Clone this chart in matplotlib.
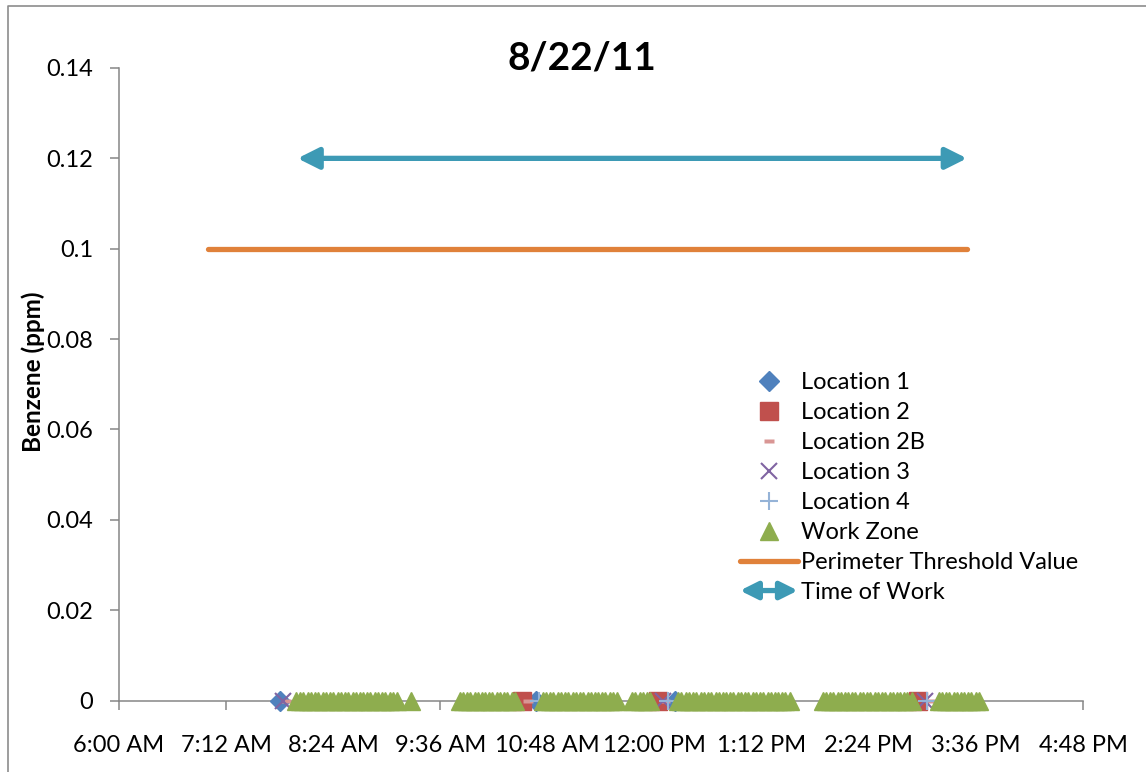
import matplotlib
matplotlib.use("Agg")
import matplotlib.pyplot as plt
from matplotlib.lines import Line2D
from matplotlib.patches import FancyArrowPatch
from matplotlib.legend_handler import HandlerBase

plt.rcParams['font.family'] = ['Lato', 'DejaVu Sans']

# ---------------- data ----------------
title = "8/22/11"
y_label = "Benzene (ppm)"

loc1_times = ["7:48", "10:40", "12:14"]
loc1_vals = [0, 0, 0]
loc2_times = ["10:31", "12:02", "14:57"]
loc2_vals = [0, 0, 0]
loc2b_times = ["7:52", "10:35", "12:07", "15:05"]
loc2b_vals = [0, 0, 0, 0]
loc3_times = ["7:50", "12:06", "15:02"]
loc3_vals = [0, 0, 0]
loc4_times = ["10:42", "12:09", "15:03"]
loc4_vals = [0, 0, 0]

work_zone_times = [
    "7:59", "8:02", "8:04", "8:07", "8:09", "8:12", "8:14", "8:17", "8:19", "8:22",
    "8:24", "8:27", "8:29", "8:32", "8:34", "8:37", "8:39", "8:42", "8:44", "8:47",
    "8:49", "8:52", "8:54", "8:57", "8:59", "9:02", "9:04", "9:07", "9:16",
    "9:49", "9:51", "9:54", "9:56", "9:59", "10:01", "10:04", "10:06", "10:09",
    "10:11", "10:14", "10:16", "10:19", "10:21", "10:24", "10:26",
    "10:45", "10:47", "10:50", "10:52", "10:55", "10:57", "11:00", "11:02", "11:05",
    "11:07", "11:10", "11:12", "11:15", "11:17", "11:20", "11:22", "11:25", "11:27",
    "11:30", "11:32", "11:35",
    "11:45", "11:47", "11:50", "11:52", "11:55", "11:57",
    "12:16", "12:18", "12:21", "12:23", "12:26", "12:28", "12:31", "12:33", "12:36",
    "12:38", "12:41", "12:43", "12:46", "12:48", "12:51", "12:53", "12:56", "12:58",
    "13:01", "13:03", "13:06", "13:08", "13:11", "13:13", "13:16", "13:18", "13:21",
    "13:23", "13:26", "13:28", "13:31",
    "13:53", "13:55", "13:58", "14:00", "14:03", "14:05", "14:08", "14:10", "14:13",
    "14:15", "14:18", "14:20", "14:23", "14:25", "14:28", "14:30", "14:33", "14:35",
    "14:38", "14:40", "14:43", "14:45", "14:48", "14:50", "14:53",
    "15:11", "15:13", "15:16", "15:18", "15:21", "15:23", "15:26", "15:28", "15:31",
    "15:33", "15:36", "15:38",
]
work_zone_vals = [0] * len(work_zone_times)

threshold_times = ["7:00", "15:30"]
threshold_vals = [0.1, 0.1]

work_period_times = ["8:00", "15:30"]
work_period_level = 0.12

x_tick_times = ["6:00", "7:12", "8:24", "9:36", "10:48", "12:00", "13:12", "14:24", "15:36", "16:48"]
x_tick_labels = ["6:00 AM", "7:12 AM", "8:24 AM", "9:36 AM", "10:48 AM",
                 "12:00 PM", "1:12 PM", "2:24 PM", "3:36 PM", "4:48 PM"]
y_ticks = [0, 0.02, 0.04, 0.06, 0.08, 0.1, 0.12, 0.14]
y_tick_labels = ["0", "0.02", "0.04", "0.06", "0.08", "0.1", "0.12", "0.14"]


def day_frac(s):
    h, m = s.split(":")
    return (int(h) * 60 + int(m)) / 1440.0


def to_x(lst):
    return [day_frac(s) for s in lst]


# ---------------- styles ----------------
c_loc1 = "#4F81BD"
c_loc2 = "#C0504D"
c_loc2b = "#D99694"
c_loc3 = "#8064A2"
c_loc4 = "#95B3D7"
c_wz = "#8EAD4E"
c_thr = "#E0813A"
c_arrow = "#3D9AB5"
c_axis = "#868686"

dash_marker = [(-1, -0.35), (1, -0.35), (1, 0.35), (-1, 0.35), (-1, -0.35)]

fig = plt.figure(figsize=(11.46, 7.72), dpi=100)
ax = fig.add_axes([119 / 1146, 1 - 700.5 / 772, (1083 - 119) / 1146, (700.5 - 68) / 772])

ax.plot(to_x(loc1_times), loc1_vals, ls="none", marker="D", ms=10, color=c_loc1,
        mec=c_loc1, clip_on=False, label="Location 1", zorder=3)
ax.plot(to_x(loc2_times), loc2_vals, ls="none", marker="s", ms=13, color=c_loc2,
        mec=c_loc2, clip_on=False, label="Location 2", zorder=3)
ax.plot(to_x(loc2b_times), loc2b_vals, ls="none", marker=dash_marker, ms=7.5, color=c_loc2b,
        mec="none", clip_on=False, label="Location 2B", zorder=3)
ax.plot(to_x(loc3_times), loc3_vals, ls="none", marker="x", ms=12, mew=1.5, color=c_loc3,
        clip_on=False, label="Location 3", zorder=3)
ax.plot(to_x(loc4_times), loc4_vals, ls="none", marker="+", ms=13, mew=1.5, color=c_loc4,
        clip_on=False, label="Location 4", zorder=3)
ax.plot(to_x(work_zone_times), work_zone_vals, ls="none", marker="^", ms=13, color=c_wz,
        mec=c_wz, clip_on=False, label="Work Zone", zorder=3)
ax.plot(to_x(threshold_times), threshold_vals, color=c_thr, lw=3.8,
        solid_capstyle="round", label="Perimeter Threshold Value", zorder=2)

wx = to_x(work_period_times)
ax.annotate("", xy=(wx[1], work_period_level), xytext=(wx[0], work_period_level),
            arrowprops=dict(arrowstyle="<|-|>,head_length=0.4,head_width=0.2",
                            color=c_arrow, lw=3.8, mutation_scale=32,
                            shrinkA=0, shrinkB=0), zorder=2)

ax.set_xlim(day_frac(x_tick_times[0]), day_frac(x_tick_times[-1]))
ax.set_ylim(0, 0.14)
ax.set_xticks(to_x(x_tick_times))
ax.set_xticklabels(x_tick_labels)
ax.set_yticks(y_ticks)
ax.set_yticklabels(y_tick_labels)

for side in ["top", "right"]:
    ax.spines[side].set_visible(False)
for side in ["left", "bottom"]:
    ax.spines[side].set_color(c_axis)
    ax.spines[side].set_linewidth(1.1)
ax.tick_params(axis="both", colors=c_axis, labelcolor="black", labelsize=17,
               length=6.5, width=1.1, direction="out")
ax.tick_params(axis="x", pad=18)
ax.tick_params(axis="y", pad=12)

ax.set_ylabel(y_label, fontsize=17.5, fontweight="bold")
ax.yaxis.set_label_coords((45 - 119) / 964, (700.5 - 372) / 632.5)
fig.text(582 / 1146, 1 - 58 / 772, title, fontsize=28, fontweight="bold",
         ha="center", va="center")


class DoubleArrowHandler(HandlerBase):
    def create_artists(self, legend, orig_handle, xdescent, ydescent, width, height,
                       fontsize, trans):
        y = height / 2 - ydescent
        arr = FancyArrowPatch((-xdescent, y), (-xdescent + width, y),
                              arrowstyle="<|-|>,head_length=0.4,head_width=0.2",
                              mutation_scale=26, color=c_arrow, lw=3.8,
                              shrinkA=0, shrinkB=0, transform=trans)
        return [arr]


handles, labels = ax.get_legend_handles_labels()
arrow_handle = Line2D([], [], color=c_arrow)
handles.append(arrow_handle)
labels.append("Time of Work")
leg = fig.legend(handles, labels, loc="upper left",
                 bbox_to_anchor=(740 / 1146, 1 - 372 / 772),
                 frameon=False, fontsize=17, handlelength=2.45, handletextpad=0.12,
                 labelspacing=0.38, borderpad=0, borderaxespad=0, numpoints=1,
                 handler_map={arrow_handle: DoubleArrowHandler()})

# chart-area border (left and top edges visible)
fig.add_artist(Line2D([8 / 1146, 8 / 1146, 1.0], [0.0, 1 - 6 / 772, 1 - 6 / 772],
                      transform=fig.transFigure, color="#8C8C8C", lw=1.2))

fig.savefig("out.png", dpi=100)
